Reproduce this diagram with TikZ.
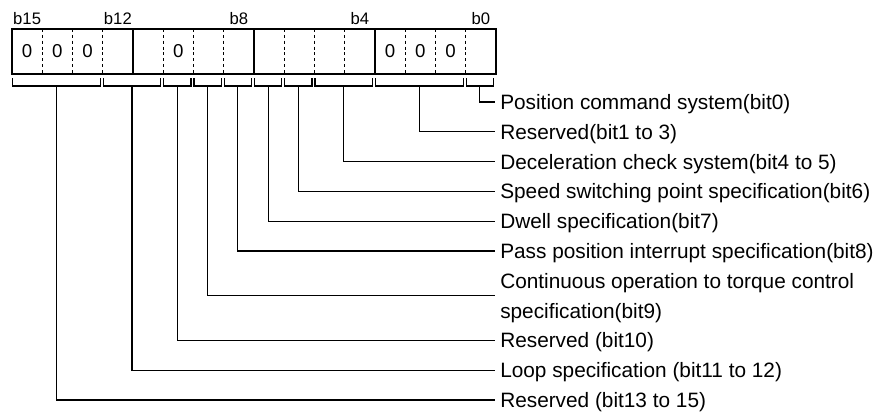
\documentclass[tikz,border=0pt]{standalone}
\usepackage{fontspec}
\setmainfont{Liberation Sans}
\usetikzlibrary{positioning}
\newcommand{\bitpos}[1]{(12+30.25*(#1))}
\tikzset{
  regline/.style={line width=0.8pt,black},
  cellsep/.style={line width=0.8pt,dash pattern=on 2.2pt off 2.2pt},
  digit/.style={font=\fontsize{14}{16}\selectfont,inner sep=0pt},
  bithead/.style={font=\fontsize{12.5}{14}\selectfont,inner sep=0pt},
  brk/.style={line width=0.8pt},
  lead/.style={line width=0.8pt},
  lbl/.style={anchor=west,inner xsep=3.75pt,inner ysep=0pt,
              font=\fontsize{15.6}{22.35}\selectfont,align=left,
              text height=11.2pt,text depth=0pt},
}
\begin{document}
\begin{tikzpicture}[x=0.75pt,y=-0.75pt]
  \useasboundingbox (0,0) rectangle (884,415);
  % Register
  \draw[regline] (12,29) rectangle (496,74);
  \foreach \k in {1,2,3,5,6,7,9,10,11,13,14,15}
    \draw[cellsep] ({\bitpos{\k}},29) -- ({\bitpos{\k}},74);
  \foreach \k in {4,8,12}
    \draw[regline] ({\bitpos{\k}},29) -- ({\bitpos{\k}},74);
  % Fixed bits
  \foreach \k in {0,1,2,5,12,13,14}
    \node[digit] (dg\k) at ({\bitpos{\k+0.5}},51.5) {0};
  % Bit numbers
  \foreach \k/\b in {0/15,3/12,7/8,11/4,15/0}
    \node[bithead] (hd\b) at ({\bitpos{\k+0.5}},18.5) {b\b};
  % Brackets
  \foreach \first/\last/\nm in {0/2/13,3/4/11,5/5/10,6/6/9,7/7/8,8/8/7,9/9/6,10/11/4,12/14/1,15/15/0}{
    \draw[brk] ({\bitpos{\first}+0.5},78) -- ({\bitpos{\first}+0.5},86)
      -- ({\bitpos{\last+1}-2.5},86) -- ({\bitpos{\last+1}-2.5},78);
    \coordinate (fld\nm) at ({(\bitpos{\first}+\bitpos{\last+1}-2)/2},86);
  }
  % Labels
  \node[lbl] (lbl0) at (495,102) {Position command system(bit0)};
  \node[lbl] (lbl1) at (495,131.8) {Reserved(bit1 to 3)};
  \node[lbl] (lbl4) at (495,161.6) {Deceleration check system(bit4 to 5)};
  \node[lbl] (lbl6) at (495,191.4) {Speed switching point specification(bit6)};
  \node[lbl] (lbl7) at (495,221.2) {Dwell specification(bit7)};
  \node[lbl] (lbl8) at (495,251) {Pass position interrupt specification(bit8)};
  \node[lbl,text height=33.55pt] (lbl9) at (495,295.7) {Continuous operation to torque control\\specification(bit9)};
  \node[lbl] (lbl10) at (495,340.4) {Reserved (bit10)};
  \node[lbl] (lbl11) at (495,370.2) {Loop specification (bit11 to 12)};
  \node[lbl] (lbl13) at (495,400) {Reserved (bit13 to 15)};
  % Leaders
  \foreach \nm in {0,1,4,6,7,8,9,10,11,13}
    \draw[lead] (fld\nm) |- (lbl\nm.west);
\end{tikzpicture}
\end{document}
